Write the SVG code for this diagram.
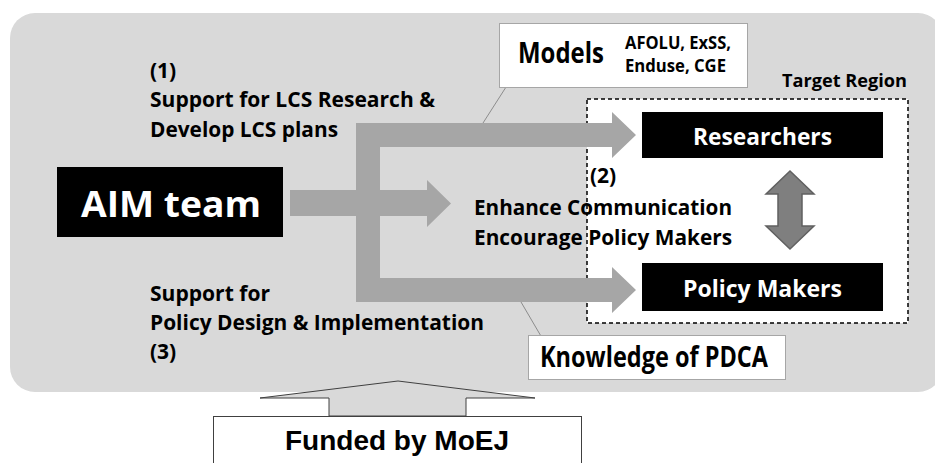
<svg xmlns="http://www.w3.org/2000/svg" width="935" height="463" viewBox="0 0 935 463">
<style>
.t{font-family:"Open Sans","Liberation Sans",sans-serif;font-weight:700;fill:#000}
.w{font-family:"Open Sans","Liberation Sans",sans-serif;font-weight:700;fill:#fff}
.lead{stroke:#8c8c8c;stroke-width:1;fill:none}
.callout{fill:#fff;stroke:#a6a6a6;stroke-width:1}
.blk{fill:#000}
</style>
<rect id="panel" x="10" y="13" width="933" height="379" rx="25" ry="25" fill="#d9d9d9"/>
<g id="target-region">
<rect x="587" y="99" width="321" height="224" fill="#fff" stroke="#000" stroke-width="1.5" stroke-dasharray="4,3"/>
<text class="t" x="907" y="87" font-size="18" text-anchor="end" textLength="125" lengthAdjust="spacingAndGlyphs">Target Region</text>
</g>
<g id="connectors">
<path d="M356,123 H612 V112 L636,135 L612,158 V147 H380 V278 H612 V267 L636,290 L612,313 V302 H356 Z" fill="#a6a6a6"/>
<path d="M290,190 H427 V180 L451,203.5 L427,227 V216 H290 Z" fill="#a6a6a6"/>
<path d="M790,171 L814,194 L802,194 L802,226 L814,226 L790,249 L766,226 L778,226 L778,194 L766,194 Z" fill="#7f7f7f" stroke="#606060" stroke-width="1.5" stroke-linejoin="miter"/>
<line class="lead" x1="515" y1="73" x2="483" y2="123"/>
<line class="lead" x1="521" y1="302" x2="545" y2="343"/>
<path d="M260,398 L398,381 L535,398 L466,398 L466,416 L329,416 L329,398 Z" fill="#d9d9d9" stroke="#404040" stroke-width="1"/>
</g>
<g id="aim-team">
<rect class="blk" x="57" y="167" width="226" height="70"/>
<text class="w" x="171" y="217" font-size="36" text-anchor="middle" textLength="180" lengthAdjust="spacingAndGlyphs">AIM team</text>
</g>
<g id="models">
<rect class="callout" x="499.5" y="23.5" width="248" height="64"/>
<text class="t" x="518" y="63" font-size="29" textLength="86" lengthAdjust="spacingAndGlyphs">Models</text>
<text class="t" x="625" y="49" font-size="18" textLength="106" lengthAdjust="spacingAndGlyphs">AFOLU, ExSS,</text>
<text class="t" x="625" y="72" font-size="18" textLength="101" lengthAdjust="spacingAndGlyphs">Enduse, CGE</text>
</g>
<g id="researchers">
<rect class="blk" x="642" y="112" width="241" height="46"/>
<text class="w" x="762.5" y="145" font-size="24" text-anchor="middle" textLength="139" lengthAdjust="spacingAndGlyphs">Researchers</text>
</g>
<g id="policy-makers">
<rect class="blk" x="642" y="263" width="241" height="48"/>
<text class="w" x="762.5" y="297" font-size="24" text-anchor="middle" textLength="159" lengthAdjust="spacingAndGlyphs">Policy Makers</text>
</g>
<g id="knowledge">
<rect class="callout" x="528.5" y="335.5" width="257" height="44"/>
<text class="t" x="540" y="367" font-size="28" textLength="228" lengthAdjust="spacingAndGlyphs">Knowledge of PDCA</text>
</g>
<g id="label-1">
<text class="t" x="150" y="78" font-size="21">(1)</text>
<text class="t" x="150" y="107" font-size="21" textLength="285" lengthAdjust="spacingAndGlyphs">Support for LCS Research &amp;</text>
<text class="t" x="150" y="137" font-size="21" textLength="188" lengthAdjust="spacingAndGlyphs">Develop LCS plans</text>
</g>
<g id="label-2">
<text class="t" x="590" y="183" font-size="21">(2)</text>
<text class="t" x="474" y="215" font-size="21" textLength="258" lengthAdjust="spacingAndGlyphs">Enhance Communication</text>
<text class="t" x="474" y="245" font-size="21" textLength="258" lengthAdjust="spacingAndGlyphs">Encourage Policy Makers</text>
</g>
<g id="label-3">
<text class="t" x="150" y="301" font-size="21" textLength="120" lengthAdjust="spacingAndGlyphs">Support for</text>
<text class="t" x="150" y="330" font-size="21" textLength="334" lengthAdjust="spacingAndGlyphs">Policy Design &amp; Implementation</text>
<text class="t" x="150" y="359" font-size="21">(3)</text>
</g>
<g id="funded">
<rect x="213.5" y="416.5" width="368" height="60" fill="#fff" stroke="#404040" stroke-width="1"/>
<text x="397" y="450" font-family="'Liberation Sans',Arial,sans-serif" font-weight="700" font-size="28" text-anchor="middle" fill="#000">Funded by MoEJ</text>
</g>
</svg>
